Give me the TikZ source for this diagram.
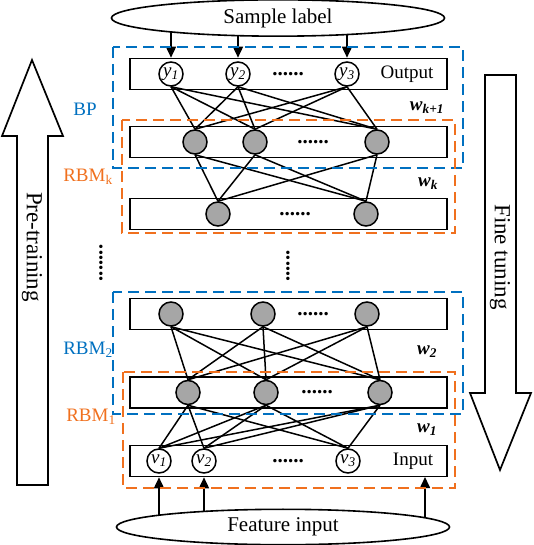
\documentclass[tikz,border=0pt]{standalone}
\usepackage{fontspec}
\setmainfont{Liberation Serif}
\usetikzlibrary{shapes.geometric,arrows.meta,backgrounds}
\definecolor{bpblue}{RGB}{0,112,192}
\definecolor{rbmorange}{RGB}{240,112,30}
\newcommand{\unitlbl}[2]{\textit{#1}\textsubscript{\textit{#2}}}
\newcommand{\wlbl}[1]{\textbf{\textit{w}}\textsubscript{\textbf{\textit{#1}}}}

\begin{document}
\begin{tikzpicture}[x=1pt,y=-1pt,
  layer/.style = {draw, line width=1.6pt, minimum width=317pt,
    minimum height=31pt, inner sep=0pt},
  vis/.style   = {circle, draw, line width=1.5pt, fill=white,
    minimum size=24pt, inner sep=0pt, font=\fontsize{19}{19}\selectfont},
  hid/.style   = {circle, draw, line width=1.5pt, fill=black!35,
    minimum size=24pt, inner sep=0pt},
  edge/.style  = {line width=1.5pt},
  feed/.style  = {line width=1.6pt, -{Triangle[length=11pt,width=10pt]}},
  dots/.style  = {font=\fontsize{21}{21}\selectfont\bfseries, inner sep=0pt},
  tag/.style   = {font=\fontsize{19}{19}\selectfont},
  weight/.style= {font=\fontsize{19}{19}\selectfont},
  side/.style  = {font=\fontsize{19}{19}\selectfont},
  bpbox/.style = {draw=bpblue, line width=1.8pt, dash pattern=on 11pt off 6pt},
  rbmbox/.style= {draw=rbmorange, line width=1.8pt, dash pattern=on 11pt off 6pt},
  bigarrow/.style = {draw, line width=1.7pt, fill=white, line join=miter},
  ]
  \useasboundingbox (0,0) rectangle (533,545);

  % layers
  \node[layer] (outlay) at (288.5,74) {};
  \node[layer] (hklay)  at (288.5,142) {};
  \node[layer] (hjlay)  at (288.5,214) {};
  \node[layer] (h2lay)  at (288.5,314) {};
  \node[layer] (h1lay)  at (288.5,392.5) {};
  \node[layer] (inlay)  at (288.5,461) {};

  % units
  \node[vis] (y1) at (171,74) {\unitlbl{y}{1}};
  \node[vis] (y2) at (238,74) {\unitlbl{y}{2}};
  \node[vis] (y3) at (347,74) {\unitlbl{y}{3}};
  \node[dots] (ydots) at (288,74) {......};
  \node[tag] (outtxt) at (407,74) {Output};

  \node[hid] (hk1) at (195,142) {};
  \node[hid] (hk2) at (255,142) {};
  \node[hid] (hk3) at (377,142) {};
  \node[dots] (hkdots) at (313,142) {......};

  \node[hid] (hj1) at (218,214) {};
  \node[hid] (hj2) at (366,214) {};
  \node[dots] (hjdots) at (295,214) {......};

  \node[hid] (hb1) at (171,314) {};
  \node[hid] (hb2) at (263,314) {};
  \node[hid] (hb3) at (367,314) {};
  \node[dots] (hbdots) at (313,314) {......};

  \node[hid] (ha1) at (188,392.5) {};
  \node[hid] (ha2) at (266,392.5) {};
  \node[hid] (ha3) at (380,392.5) {};
  \node[dots] (hadots) at (317,392.5) {......};

  \node[vis] (v1) at (159,461) {\unitlbl{v}{1}};
  \node[vis] (v2) at (204,461) {\unitlbl{v}{2}};
  \node[vis] (v3) at (348,461) {\unitlbl{v}{3}};
  \node[dots] (vdots) at (288,461) {......};
  \node[tag] (intxt) at (413,461) {Input};

  % weights
  \foreach \a in {y1,y2,y3}
    \foreach \b in {hk1,hk2,hk3}
      \draw[edge] (\a.south) -- (\b.north);
  \foreach \a in {hk1,hk2,hk3}
    \foreach \b in {hj1,hj2}
      \draw[edge] (\a.south) -- (\b.north);
  \foreach \a in {hb1,hb2,hb3}
    \foreach \b in {ha1,ha2,ha3}
      \draw[edge] (\a.south) -- (\b.north);
  \foreach \a in {ha1,ha2,ha3}
    \foreach \b in {v1,v2,v3}
      \draw[edge] (\a.south) -- (\b.north);

  \node[weight] (wk1) at (427,108) {\wlbl{k+1}};
  \node[weight] (wk)  at (428,184) {\wlbl{k}};
  \node[weight] (w2)  at (427,352) {\wlbl{2}};
  \node[weight] (w1)  at (427,430) {\wlbl{1}};

  % gap between the stacks
  \node[dots, rotate=90] (middots) at (288,266) {......};
  \node[dots, rotate=90] (leftdots) at (101,263) {.......};

  % dashed groups
  \draw[bpbox]  (113,47)  rectangle (463,168);
  \draw[rbmbox] (122,120) rectangle (455,233);
  \draw[bpbox]  (113,292) rectangle (463,414);
  \draw[rbmbox] (123,372) rectangle (455,488);

  \node[side, text=bpblue]    (bp)   at (85,109) {BP};
  \node[side, text=rbmorange] (rbmk) at (88,177) {RBM\textsubscript{k}};
  \node[side, text=bpblue]    (rbm2) at (88,350) {RBM\textsubscript{2}};
  \node[side, text=rbmorange] (rbm1) at (91,417) {RBM\textsubscript{1}};

  % label and input ellipses
  \node[ellipse, draw, line width=1.6pt, fill=white, minimum width=333pt,
    minimum height=31pt, font=\fontsize{21}{21}\selectfont] (label) at (278,18) {Sample label};
  \node[ellipse, draw, line width=1.6pt, fill=white, minimum width=333pt,
    minimum height=33pt, font=\fontsize{21}{21}\selectfont] (feature) at (283,527) {Feature input};
  \coordinate (feedin) at (425,477);
  \begin{pgfonlayer}{background}
    \foreach \u in {y1,y2,y3}
      \draw[feed] (\u |- label.center) -- (\u |- outlay.north);
    \draw[feed] (v1 |- feature.center) -- (v1 |- inlay.south);
    \draw[feed] (v2 |- feature.center) -- (v2 |- inlay.south);
    \draw[feed] (feedin |- feature.center) -- (feedin);
  \end{pgfonlayer}

  % training direction
  \draw[bigarrow] (17,485) -- (17,136) -- (2,136) -- (32,60) -- (63,136)
    -- (48,136) -- (48,485) -- cycle;
  \node[rotate=-90, font=\fontsize{23}{23}\selectfont] (pretrain) at (32,247) {Pre-training};
  \draw[bigarrow] (485,75) -- (485,393) -- (470,393) -- (500,470) -- (531,393)
    -- (516,393) -- (516,75) -- cycle;
  \node[rotate=-90, font=\fontsize{23}{23}\selectfont] (finetune) at (500,257) {Fine tuning};
\end{tikzpicture}
\end{document}
